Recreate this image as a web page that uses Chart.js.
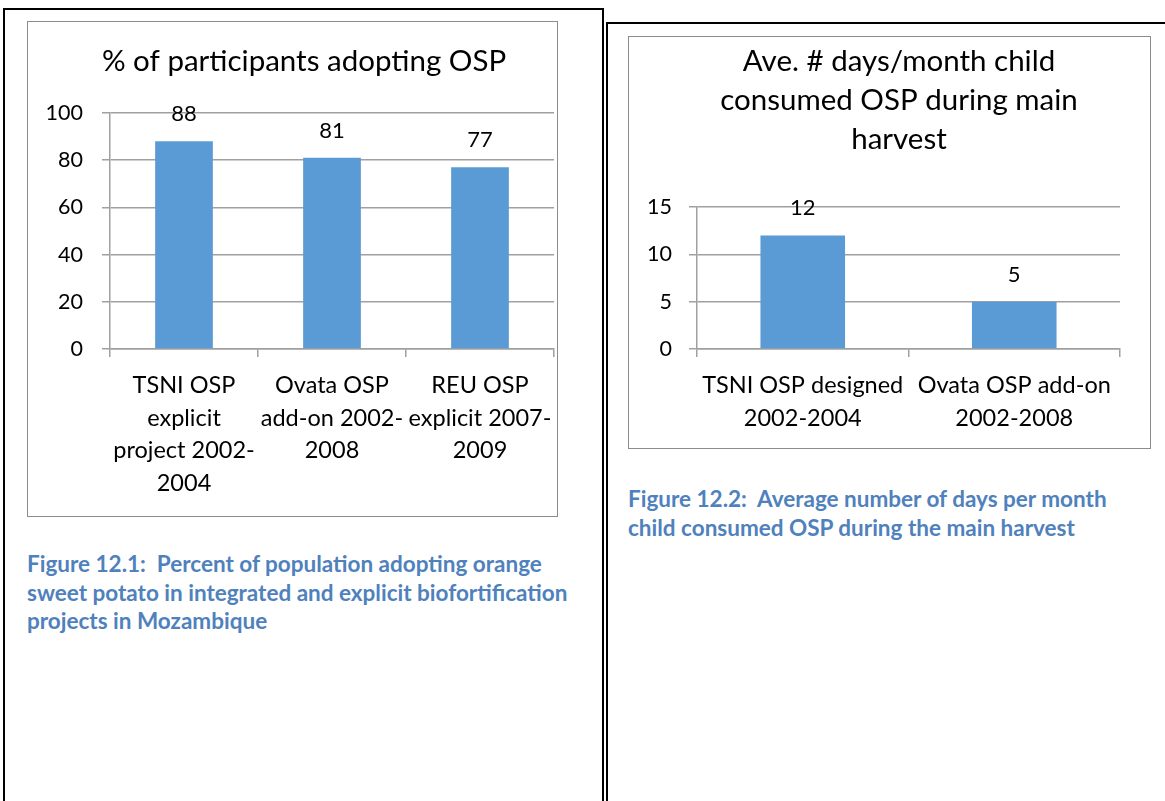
<!DOCTYPE html>
<html>
<head>
<meta charset="utf-8">
<script src="https://cdn.jsdelivr.net/npm/chart.js@4"></script>
<style>
  body { margin:0; width:1165px; height:801px; position:relative; overflow:hidden; background:#fff; font-family: Lato, sans-serif; }
  .cell { position:absolute; box-sizing:border-box; border:2px solid #000; border-bottom:none; height:820px; }
  #cellL { left:3px; top:8px; width:601px; }
  #cellR { left:606px; top:22px; width:600px; border-right:none; }
  .box { position:absolute; box-sizing:border-box; border:1px solid #8c8c8c; background:#fff; }
  .box canvas { position:absolute; left:0; top:0; }
  #box1 { left:27px; top:21px; width:531px; height:496px; }
  #box2 { left:628px; top:36px; width:523px; height:413px; }
  .cap { position:absolute; color:#4f81bd; font-weight:700; font-size:22.5px; line-height:28.5px; white-space:nowrap; }
  #cap1 { left:27px; top:550px; }
  #cap2 { left:628px; top:485px; }
</style>
</head>
<body>
<div class="cell" id="cellL"></div>
<div class="cell" id="cellR"></div>
<div class="box" id="box1"><canvas id="chart1" width="529" height="494"></canvas></div>
<div class="box" id="box2"><canvas id="chart2" width="521" height="411"></canvas></div>
<div class="cap" id="cap1">Figure 12.1:&nbsp; Percent of population adopting orange<br>sweet potato in integrated and explicit biofortification<br>projects in Mozambique</div>
<div class="cap" id="cap2">Figure 12.2:&nbsp; Average number of days per month<br>child consumed OSP during the main harvest</div>
<script>
// chart 1 data
const adoptLabels = [
  ['TSNI OSP', 'explicit', 'project 2002-', '2004'],
  ['Ovata OSP', 'add-on 2002-', '2008'],
  ['REU OSP', 'explicit 2007-', '2009']
];
const adoptValues = [88, 81, 77];
const adoptTicks = [0, 20, 40, 60, 80, 100];

// chart 2 data
const daysLabels = [
  ['TSNI OSP designed', '2002-2004'],
  ['Ovata OSP add-on', '2002-2008']
];
const daysValues = [12, 5];
const daysTicks = [0, 5, 10, 15];

const BAR = '#5b9bd5';
const GRID = '#a0a0a0';
const FONT = 'Lato, sans-serif';

// value labels above each bar
const barLabels = {
  id: 'barLabels',
  afterDatasetsDraw(chart, args, opts) {
    const ctx = chart.ctx;
    const meta = chart.getDatasetMeta(0);
    const values = chart.data.datasets[0].data;
    ctx.save();
    ctx.font = '22px ' + FONT;
    ctx.fillStyle = '#000';
    ctx.textAlign = 'center';
    ctx.textBaseline = 'middle';
    meta.data.forEach((bar, i) => {
      ctx.fillText(values[i], bar.x, bar.y - opts.offset);
    });
    ctx.restore();
  }
};

// the original titles sit a bit right of the canvas centre
const titleShift = {
  id: 'titleShift',
  afterLayout(chart, args, opts) {
    if (chart.titleBlock) chart.titleBlock.left += opts.left;
  }
};

function makeChart(id, labels, values, ticks, o) {
  return new Chart(document.getElementById(id), {
    type: 'bar',
    data: {
      labels: labels,
      datasets: [{
        data: values,
        backgroundColor: BAR,
        barPercentage: o.barPct,
        categoryPercentage: 1
      }]
    },
    plugins: [barLabels, titleShift],
    options: {
      responsive: false,
      animation: false,
      layout: { padding: { left: 0, right: o.padRight, top: 0, bottom: 0 } },
      plugins: {
        legend: { display: false },
        tooltip: { enabled: false },
        title: {
          display: true,
          text: o.title,
          color: '#000',
          font: { family: FONT, size: 29.5, weight: 'normal', lineHeight: o.titleLH },
          padding: o.titlePad
        },
        barLabels: { offset: 27 },
        titleShift: { left: o.titleLeft }
      },
      scales: {
        x: {
          grid: { offset: true, drawOnChartArea: false, drawTicks: true, tickLength: 8, color: GRID, lineWidth: 1.5 },
          border: { color: GRID, width: 1.5 },
          ticks: {
            color: '#000', autoSkip: false, maxRotation: 0, minRotation: 0, padding: 12,
            font: { family: FONT, size: 23.5, lineHeight: 1.39 }
          },
          afterFit(scale) {
            scale.height = o.xHeight;
            // labels may overhang the plot edges, like in the original
            scale.paddingLeft = 0;
            scale.paddingRight = 0;
          }
        },
        y: {
          min: ticks[0],
          max: ticks[ticks.length - 1],
          afterBuildTicks(scale) { scale.ticks = ticks.map(v => ({ value: v })); },
          grid: { color: GRID, lineWidth: 1.5, drawTicks: true, tickLength: 8 },
          border: { color: GRID, width: 1.5 },
          ticks: { color: '#000', padding: o.yPad, font: { family: FONT, size: 21.5 } },
          afterFit(scale) { scale.width = o.yWidth; }
        }
      }
    }
  });
}

makeChart('chart1', adoptLabels, adoptValues, adoptTicks, {
  title: '% of participants adopting OSP',
  titleLH: 1.2, titlePad: { top: 21.3, bottom: 34.3 }, titleLeft: 26,
  barPct: 0.39, padRight: 3, xHeight: 167, yWidth: 82, yPad: 19
});

makeChart('chart2', daysLabels, daysValues, daysTicks, {
  title: ['Ave. # days/month child', 'consumed OSP during main', 'harvest'],
  titleLH: 1.322, titlePad: { top: 4.5, bottom: 48.5 }, titleLeft: 49,
  barPct: 0.4, padRight: 30, xHeight: 99, yWidth: 68, yPad: 17
});
</script>
</body>
</html>
